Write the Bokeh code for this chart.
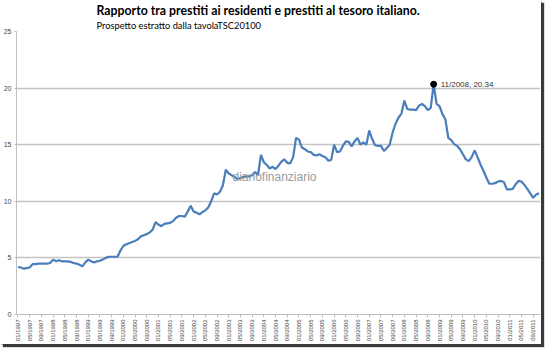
import math
from bokeh.plotting import figure
from bokeh.models import FixedTicker, Label, Range1d, Title
from bokeh.embed import file_html
from bokeh.resources import INLINE
from bokeh.core.properties import value

# ---- data -------------------------------------------------------------
tick_labels = [
    "01/1997", "05/1997", "09/1997", "01/1998", "05/1998", "09/1998",
    "01/1999", "05/1999", "09/1999", "01/2000", "05/2000", "09/2000",
    "01/2001", "05/2001", "09/2001", "01/2002", "05/2002", "09/2002",
    "01/2003", "05/2003", "09/2003", "01/2004", "05/2004", "09/2004",
    "01/2005", "05/2005", "09/2005", "01/2006", "05/2006", "09/2006",
    "01/2007", "05/2007", "09/2007", "01/2008", "05/2008", "09/2008",
    "01/2009", "05/2009", "09/2009", "01/2010", "05/2010", "09/2010",
    "01/2011", "05/2011", "09/2011",
]

# monthly ratio, 01/1997 .. 11/2011
ratio = [
    4.2, 4.15, 4.05, 4.1, 4.15, 4.45, 4.45, 4.5, 4.5, 4.5,
    4.5, 4.55, 4.85, 4.7, 4.8, 4.7, 4.7, 4.7, 4.65, 4.55,
    4.5, 4.4, 4.25, 4.6, 4.85, 4.7, 4.6, 4.7, 4.75, 4.85,
    5.0, 5.1, 5.1, 5.1, 5.1, 5.65, 6.05, 6.2, 6.3, 6.4,
    6.5, 6.65, 6.9, 7.0, 7.1, 7.25, 7.5, 8.15, 7.95, 7.8,
    8.0, 8.05, 8.1, 8.25, 8.55, 8.7, 8.7, 8.65, 9.1, 9.6,
    9.1, 9.0, 8.85, 9.05, 9.2, 9.45, 10.0, 10.7, 10.6, 10.85,
    11.4, 12.8, 12.45, 12.3, 12.15, 11.95, 12.05, 12.15, 12.2, 12.2,
    12.3, 12.6, 12.3, 14.1, 13.45, 13.2, 12.9, 13.05, 12.85, 13.15,
    13.5, 13.7, 13.4, 13.35, 13.9, 15.6, 15.45, 14.75, 14.6, 14.4,
    14.35, 14.1, 14.05, 14.15, 14.0, 13.9, 13.6, 13.65, 15.0, 14.35,
    14.4, 14.9, 15.3, 15.25, 14.85, 15.3, 15.6, 15.0, 15.2, 15.0,
    16.25, 15.5, 14.95, 14.9, 14.9, 14.45, 14.7, 15.0, 16.1, 16.85,
    17.4, 17.75, 18.9, 18.15, 18.1, 18.1, 18.05, 18.45, 18.6, 18.4,
    18.05, 18.25, 20.34, 18.6, 18.4, 17.7, 17.25, 15.6, 15.4, 15.05,
    14.9, 14.6, 14.15, 13.7, 13.55, 13.9, 14.5, 13.9, 13.25, 12.7,
    12.1, 11.55, 11.55, 11.6, 11.75, 11.8, 11.7, 11.05, 11.05, 11.1,
    11.5, 11.8, 11.75, 11.45, 11.1, 10.7, 10.3, 10.6, 10.7,
]

y_ticks = [0, 5, 10, 15, 20, 25]
title_text = "Rapporto tra prestiti ai residenti e prestiti al tesoro italiano."
subtitle_text = "Prospetto estratto dalla tavolaTSC20100"
watermark_text = "diariofinanziario"
peak_month = "11/2008"

# ---- figure -----------------------------------------------------------
n = len(ratio)
xs = list(range(n))
peak_i = max(range(n), key=lambda i: ratio[i])

p = figure(width=541, height=344, output_backend="svg", toolbar_location=None,
           x_range=Range1d(-0.5, n - 0.5), y_range=Range1d(0, 25),
           min_border_left=0, min_border_right=1, min_border_top=0,
           min_border_bottom=0, background_fill_color="white",
           border_fill_color="white", outline_line_color=None)
p.styles = {"box-shadow": "3px 3px 1px #3a3a3a, 1px 1px 0px #bbbbbb"}

p.line(xs, ratio, line_color="#4a7ebb", line_width=2.2)
p.scatter([peak_i], [ratio[peak_i]], size=6, color="black")
p.text([peak_i], [ratio[peak_i]], text=[f"{peak_month}, {ratio[peak_i]:.2f}"],
       x_offset=7, text_baseline="middle", text_align="left",
       text_font=value("Liberation Sans"), text_font_size="8px",
       text_color="#333333")

# axes
p.xaxis.ticker = FixedTicker(ticks=[4 * k for k in range(len(tick_labels))])
p.xaxis.major_label_overrides = {4 * k: lab for k, lab in enumerate(tick_labels)}
p.xaxis.major_label_orientation = math.pi / 2
p.xaxis.major_label_text_font_size = "6px"
p.xaxis.major_label_text_font = "Liberation Sans"
p.xaxis.major_label_text_color = "#444444"
p.xaxis.major_label_standoff = 2
p.xaxis.axis_line_color = "#bfbfbf"
p.xaxis.major_tick_line_color = "#bfbfbf"
p.xaxis.major_tick_out = 3
p.xaxis.major_tick_in = 0
p.xaxis.minor_tick_line_color = None

p.yaxis.ticker = FixedTicker(ticks=y_ticks)
p.yaxis.major_label_text_font_size = "7px"
p.yaxis.major_label_text_font = "Liberation Sans"
p.yaxis.major_label_text_color = "#444444"
p.yaxis.major_label_standoff = 3
p.yaxis.axis_line_color = "#bfbfbf"
p.yaxis.major_tick_line_color = "#bfbfbf"
p.yaxis.major_tick_out = 2
p.yaxis.major_tick_in = 0
p.yaxis.minor_tick_line_color = None

p.xgrid.visible = False
p.ygrid.grid_line_color = "#c4c4c4"
p.ygrid.grid_line_width = 1.3

# titles (subtitle nearest the frame, then the main title)
p.add_layout(Title(text=subtitle_text, align="left", offset=80, standoff=1,
                   text_font="Lato", text_font_style="normal",
                   text_font_size="9.3px", text_color="black"), "above")
p.add_layout(Title(text=title_text, align="left", offset=80, standoff=0,
                   text_font="Lato", text_font_style="bold",
                   text_font_size="12.3px", text_color="black"), "above")

# watermark (frame-relative screen units)
p.add_layout(Label(x=216, y=138, x_units="screen", y_units="screen",
                   text=watermark_text, text_font="Liberation Sans",
                   text_font_size="12px", text_color="#9a9a9a",
                   text_baseline="middle"))

open("out.html", "w").write(file_html(p, INLINE))
